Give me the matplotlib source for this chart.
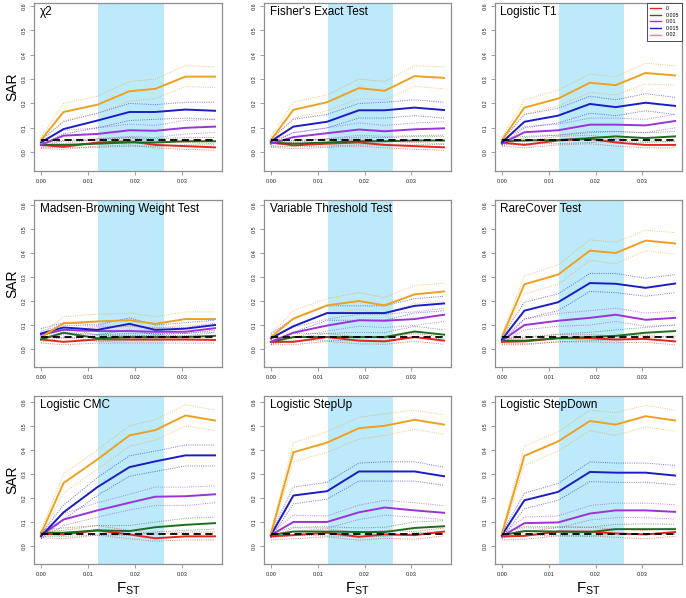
import matplotlib
matplotlib.use('Agg')
import matplotlib.pyplot as plt
from matplotlib.lines import Line2D

plt.rcParams['font.family'] = ['Liberation Sans', 'DejaVu Sans']

# ---------------- data ----------------
FST = [0, 0.0048, 0.012, 0.0188, 0.0243, 0.0307, 0.037]
SERIES = ['0', '0.005', '0.01', '0.015', '0.02']
COLORS = ['#e3261f', '#1f6b1f', '#9b33d6', '#1c1cc4', '#eda11f']
ALPHA_LEVEL = 0.05
BAND = (0.0122, 0.0261)
TITLES = ['χ2', "Fisher's Exact Test", 'Logistic T1',
          'Madsen-Browning Weight Test', 'Variable Threshold Test', 'RareCover Test',
          'Logistic CMC', 'Logistic StepUp', 'Logistic StepDown']

# order of rows in each table: 0, 0.005, 0.01, 0.015, 0.02
chi2_mean = [[0.03, 0.022, 0.04, 0.045, 0.03, 0.025, 0.02],
             [0.03, 0.03, 0.035, 0.04, 0.04, 0.045, 0.045],
             [0.03, 0.068, 0.075, 0.09, 0.088, 0.1, 0.105],
             [0.04, 0.095, 0.13, 0.165, 0.165, 0.175, 0.17],
             [0.05, 0.165, 0.195, 0.25, 0.26, 0.31, 0.31]]
chi2_lo = [[0.015, 0.012, 0.025, 0.03, 0.018, 0.012, 0.008],
           [0.02, 0.02, 0.02, 0.025, 0.025, 0.03, 0.03],
           [0.02, 0.05, 0.055, 0.065, 0.06, 0.075, 0.08],
           [0.03, 0.075, 0.10, 0.13, 0.135, 0.14, 0.135],
           [0.04, 0.13, 0.16, 0.21, 0.22, 0.27, 0.265]]
chi2_hi = [[0.04, 0.035, 0.055, 0.06, 0.045, 0.04, 0.035],
           [0.04, 0.045, 0.05, 0.06, 0.055, 0.06, 0.06],
           [0.04, 0.09, 0.10, 0.115, 0.11, 0.13, 0.135],
           [0.05, 0.125, 0.16, 0.20, 0.195, 0.205, 0.205],
           [0.06, 0.20, 0.23, 0.29, 0.30, 0.355, 0.35]]

fisher_mean = [[0.04, 0.028, 0.035, 0.04, 0.03, 0.025, 0.02],
               [0.04, 0.035, 0.04, 0.045, 0.045, 0.048, 0.048],
               [0.035, 0.062, 0.078, 0.093, 0.086, 0.094, 0.098],
               [0.045, 0.105, 0.125, 0.172, 0.172, 0.183, 0.173],
               [0.05, 0.174, 0.205, 0.263, 0.252, 0.312, 0.305]]
fisher_lo = [[0.02, 0.015, 0.02, 0.025, 0.018, 0.012, 0.008],
             [0.025, 0.022, 0.025, 0.03, 0.03, 0.03, 0.032],
             [0.025, 0.045, 0.055, 0.07, 0.065, 0.068, 0.07],
             [0.035, 0.08, 0.10, 0.14, 0.14, 0.15, 0.14],
             [0.04, 0.14, 0.17, 0.22, 0.215, 0.27, 0.26]]
fisher_hi = [[0.05, 0.04, 0.05, 0.055, 0.045, 0.04, 0.035],
             [0.05, 0.048, 0.055, 0.062, 0.06, 0.065, 0.065],
             [0.045, 0.08, 0.10, 0.12, 0.11, 0.12, 0.125],
             [0.055, 0.135, 0.155, 0.20, 0.205, 0.215, 0.205],
             [0.065, 0.205, 0.235, 0.30, 0.29, 0.355, 0.35]]

t1_mean = [[0.04, 0.03, 0.048, 0.055, 0.04, 0.03, 0.03],
           [0.045, 0.048, 0.05, 0.058, 0.065, 0.058, 0.065],
           [0.035, 0.082, 0.09, 0.113, 0.113, 0.11, 0.128],
           [0.04, 0.125, 0.15, 0.198, 0.185, 0.203, 0.19],
           [0.05, 0.183, 0.22, 0.285, 0.275, 0.325, 0.315]]
t1_lo = [[0.025, 0.018, 0.03, 0.035, 0.025, 0.018, 0.018],
         [0.03, 0.035, 0.035, 0.04, 0.045, 0.04, 0.045],
         [0.025, 0.06, 0.07, 0.085, 0.085, 0.08, 0.10],
         [0.03, 0.10, 0.12, 0.16, 0.15, 0.17, 0.155],
         [0.04, 0.155, 0.19, 0.245, 0.235, 0.28, 0.275]]
t1_hi = [[0.05, 0.045, 0.065, 0.07, 0.055, 0.045, 0.045],
         [0.055, 0.065, 0.07, 0.08, 0.085, 0.08, 0.085],
         [0.045, 0.105, 0.115, 0.14, 0.14, 0.135, 0.155],
         [0.05, 0.155, 0.18, 0.23, 0.215, 0.24, 0.225],
         [0.06, 0.215, 0.255, 0.32, 0.31, 0.365, 0.355]]

madsen_mean = [[0.04, 0.03, 0.04, 0.04, 0.04, 0.04, 0.038],
               [0.04, 0.068, 0.045, 0.05, 0.05, 0.05, 0.055],
               [0.06, 0.08, 0.075, 0.075, 0.072, 0.072, 0.087],
               [0.065, 0.09, 0.08, 0.105, 0.08, 0.085, 0.10],
               [0.05, 0.107, 0.115, 0.12, 0.105, 0.125, 0.125]]
madsen_lo = [[0.025, 0.018, 0.025, 0.025, 0.025, 0.025, 0.025],
             [0.028, 0.05, 0.032, 0.035, 0.035, 0.035, 0.04],
             [0.045, 0.06, 0.058, 0.058, 0.055, 0.055, 0.068],
             [0.045, 0.07, 0.06, 0.08, 0.06, 0.065, 0.078],
             [0.04, 0.085, 0.09, 0.095, 0.085, 0.10, 0.10]]
madsen_hi = [[0.05, 0.045, 0.055, 0.055, 0.055, 0.055, 0.052],
             [0.05, 0.085, 0.06, 0.065, 0.065, 0.065, 0.07],
             [0.075, 0.10, 0.095, 0.095, 0.09, 0.09, 0.108],
             [0.085, 0.11, 0.10, 0.13, 0.10, 0.11, 0.12],
             [0.06, 0.135, 0.145, 0.15, 0.135, 0.155, 0.155]]

vt_mean = [[0.03, 0.03, 0.05, 0.035, 0.032, 0.05, 0.035],
           [0.03, 0.05, 0.05, 0.05, 0.05, 0.073, 0.06],
           [0.03, 0.068, 0.098, 0.12, 0.118, 0.125, 0.143],
           [0.045, 0.095, 0.15, 0.15, 0.15, 0.18, 0.19],
           [0.05, 0.127, 0.182, 0.20, 0.182, 0.228, 0.24]]
vt_lo = [[0.018, 0.018, 0.032, 0.022, 0.02, 0.032, 0.02],
         [0.02, 0.035, 0.035, 0.035, 0.035, 0.05, 0.042],
         [0.02, 0.05, 0.075, 0.095, 0.09, 0.098, 0.115],
         [0.03, 0.07, 0.12, 0.12, 0.12, 0.15, 0.16],
         [0.04, 0.10, 0.15, 0.165, 0.15, 0.19, 0.20]]
vt_hi = [[0.04, 0.045, 0.065, 0.05, 0.047, 0.065, 0.05],
         [0.04, 0.065, 0.065, 0.07, 0.068, 0.095, 0.08],
         [0.045, 0.09, 0.125, 0.145, 0.145, 0.155, 0.17],
         [0.065, 0.125, 0.18, 0.18, 0.18, 0.21, 0.22],
         [0.06, 0.16, 0.21, 0.235, 0.215, 0.265, 0.275]]

rc_mean = [[0.03, 0.032, 0.045, 0.045, 0.04, 0.042, 0.032],
           [0.035, 0.035, 0.045, 0.05, 0.055, 0.068, 0.075],
           [0.035, 0.10, 0.118, 0.13, 0.143, 0.122, 0.13],
           [0.04, 0.16, 0.195, 0.275, 0.272, 0.255, 0.273],
           [0.05, 0.27, 0.31, 0.41, 0.40, 0.452, 0.44]]
rc_lo = [[0.018, 0.018, 0.03, 0.03, 0.026, 0.028, 0.018],
         [0.022, 0.022, 0.03, 0.035, 0.038, 0.048, 0.055],
         [0.025, 0.08, 0.095, 0.10, 0.115, 0.095, 0.10],
         [0.03, 0.125, 0.16, 0.24, 0.235, 0.22, 0.235],
         [0.04, 0.23, 0.27, 0.37, 0.355, 0.41, 0.395]]
rc_hi = [[0.042, 0.045, 0.06, 0.06, 0.055, 0.058, 0.045],
         [0.045, 0.05, 0.062, 0.07, 0.08, 0.09, 0.10],
         [0.045, 0.125, 0.148, 0.16, 0.17, 0.15, 0.158],
         [0.05, 0.195, 0.23, 0.315, 0.315, 0.295, 0.31],
         [0.06, 0.305, 0.35, 0.455, 0.445, 0.495, 0.485]]

cmc_mean = [[0.05, 0.048, 0.065, 0.048, 0.032, 0.04, 0.04],
            [0.055, 0.055, 0.065, 0.062, 0.078, 0.088, 0.095],
            [0.045, 0.11, 0.148, 0.18, 0.205, 0.207, 0.215],
            [0.04, 0.14, 0.245, 0.328, 0.352, 0.377, 0.377],
            [0.05, 0.262, 0.36, 0.46, 0.482, 0.543, 0.522]]
cmc_lo = [[0.035, 0.03, 0.045, 0.03, 0.02, 0.025, 0.025],
          [0.04, 0.04, 0.045, 0.045, 0.058, 0.065, 0.07],
          [0.03, 0.085, 0.12, 0.15, 0.168, 0.168, 0.18],
          [0.03, 0.11, 0.21, 0.29, 0.31, 0.333, 0.333],
          [0.04, 0.22, 0.32, 0.415, 0.44, 0.50, 0.48]]
cmc_hi = [[0.06, 0.065, 0.085, 0.065, 0.05, 0.058, 0.058],
          [0.065, 0.075, 0.085, 0.085, 0.10, 0.115, 0.12],
          [0.055, 0.135, 0.18, 0.215, 0.245, 0.245, 0.25],
          [0.05, 0.17, 0.285, 0.375, 0.395, 0.42, 0.42],
          [0.065, 0.30, 0.40, 0.50, 0.525, 0.588, 0.565]]

up_mean = [[0.04, 0.045, 0.055, 0.038, 0.048, 0.045, 0.06],
           [0.045, 0.06, 0.06, 0.058, 0.058, 0.075, 0.082],
           [0.045, 0.10, 0.10, 0.14, 0.16, 0.148, 0.138],
           [0.045, 0.21, 0.228, 0.31, 0.31, 0.31, 0.29],
           [0.05, 0.39, 0.43, 0.49, 0.50, 0.525, 0.505]]
up_lo = [[0.025, 0.03, 0.038, 0.024, 0.032, 0.028, 0.042],
         [0.035, 0.045, 0.042, 0.04, 0.04, 0.055, 0.06],
         [0.035, 0.075, 0.075, 0.11, 0.128, 0.12, 0.11],
         [0.035, 0.175, 0.195, 0.27, 0.27, 0.27, 0.252],
         [0.04, 0.35, 0.39, 0.445, 0.46, 0.485, 0.465]]
up_hi = [[0.05, 0.06, 0.072, 0.055, 0.065, 0.06, 0.075],
         [0.055, 0.078, 0.08, 0.075, 0.078, 0.10, 0.105],
         [0.055, 0.128, 0.125, 0.17, 0.19, 0.18, 0.168],
         [0.055, 0.245, 0.265, 0.345, 0.35, 0.35, 0.328],
         [0.06, 0.43, 0.475, 0.535, 0.55, 0.565, 0.545]]

down_mean = [[0.04, 0.042, 0.06, 0.06, 0.052, 0.048, 0.058],
             [0.045, 0.062, 0.06, 0.058, 0.07, 0.07, 0.07],
             [0.04, 0.095, 0.098, 0.135, 0.148, 0.148, 0.142],
             [0.045, 0.19, 0.225, 0.308, 0.305, 0.305, 0.293],
             [0.05, 0.375, 0.435, 0.52, 0.505, 0.54, 0.522]]
down_lo = [[0.025, 0.028, 0.042, 0.042, 0.036, 0.03, 0.04],
           [0.035, 0.045, 0.042, 0.04, 0.052, 0.05, 0.05],
           [0.03, 0.075, 0.075, 0.108, 0.118, 0.118, 0.112],
           [0.035, 0.155, 0.19, 0.268, 0.265, 0.265, 0.255],
           [0.04, 0.335, 0.395, 0.48, 0.46, 0.495, 0.478]]
down_hi = [[0.05, 0.058, 0.078, 0.078, 0.07, 0.065, 0.075],
           [0.055, 0.08, 0.08, 0.078, 0.09, 0.092, 0.09],
           [0.05, 0.12, 0.125, 0.168, 0.178, 0.178, 0.172],
           [0.055, 0.22, 0.26, 0.35, 0.345, 0.345, 0.335],
           [0.06, 0.415, 0.475, 0.565, 0.555, 0.585, 0.565]]

PANELS = [(chi2_mean, chi2_lo, chi2_hi), (fisher_mean, fisher_lo, fisher_hi),
          (t1_mean, t1_lo, t1_hi), (madsen_mean, madsen_lo, madsen_hi),
          (vt_mean, vt_lo, vt_hi), (rc_mean, rc_lo, rc_hi),
          (cmc_mean, cmc_lo, cmc_hi), (up_mean, up_lo, up_hi),
          (down_mean, down_lo, down_hi)]

XTICKS = [0.00, 0.01, 0.02, 0.03]
XTICKLABELS = ['0.00', '0.01', '0.02', '0.03']
YTICKS = [0.0, 0.1, 0.2, 0.3, 0.4, 0.5, 0.6]
YTICKLABELS = ['0.0', '0.1', '0.2', '0.3', '0.4', '0.5', '0.6']

# ---------------- layout ----------------
W, H = 686, 598
fig = plt.figure(figsize=(W / 100, H / 100), dpi=100)
cols = [(34, 222), (264, 451), (495, 682)]
rows = [(3, 171), (200, 367.3), (396, 564)]
YLIMS = [(-0.077, 0.612), (-0.076, 0.621), (-0.075, 0.624)]
BAND_COLOR = '#bdeafa'
FRAME = '#8f8f8f'

for i, (title, (mean, lo, hi)) in enumerate(zip(TITLES, PANELS)):
    r, c = divmod(i, 3)
    x0, x1 = cols[c]
    y0, y1 = rows[r]
    ax = fig.add_axes([x0 / W, 1 - y1 / H, (x1 - x0) / W, (y1 - y0) / H])
    ax.axvspan(BAND[0], BAND[1], color=BAND_COLOR, lw=0, zorder=0)
    for k in range(len(SERIES)):
        ax.plot(FST, lo[k], ls=(0, (1, 1.3)), color=COLORS[k], lw=0.7, alpha=0.6, zorder=2)
        ax.plot(FST, hi[k], ls=(0, (1, 1.3)), color=COLORS[k], lw=0.7, alpha=0.6, zorder=2)
    for k in range(len(SERIES)):
        ax.plot(FST, mean[k], color=COLORS[k], lw=1.4, zorder=3)
    ax.plot([FST[0], FST[-1]], [ALPHA_LEVEL, ALPHA_LEVEL], color='black',
            ls=(0, (4, 2.5)), lw=1.3, zorder=4)
    ax.set_xlim(-0.00148, 0.03848)
    ax.set_ylim(*YLIMS[r])
    ax.set_xticks(XTICKS)
    ax.set_xticklabels(XTICKLABELS)
    ax.set_yticks(YTICKS)
    ax.set_yticklabels(YTICKLABELS, rotation=90, va='center')
    ax.tick_params(axis='both', direction='out', length=3, width=0.6, color=FRAME,
                   labelsize=4, pad=2.5, labelcolor='#222222')
    for s in ax.spines.values():
        s.set_color(FRAME)
        s.set_linewidth(0.9)
    hpx = y1 - y0
    wpx = x1 - x0
    ax.text(5.5 / wpx, 1 - 12.3 / hpx, title, transform=ax.transAxes, ha='left',
            va='baseline', fontsize=8.5, color='black', zorder=5)
    if c == 0:
        fig.text(12 / W, 1 - ((y0 + y1) / 2) / H, 'SAR', rotation=90,
                 ha='center', va='center', fontsize=10)
    if r == 2:
        ax.set_xlabel('$\\mathregular{F_{ST}}$', fontsize=11, labelpad=3)
    if i == 2:
        handles = [Line2D([0], [0], color=COLORS[k], lw=1.0) for k in range(len(SERIES))]
        leg = ax.legend(handles, SERIES, loc='upper right', fontsize=3.8,
                        handlelength=2.0, labelspacing=0.3, borderpad=0.6,
                        handletextpad=0.9, borderaxespad=0.0, fancybox=False,
                        framealpha=1)
        leg.get_frame().set_edgecolor('#333333')
        leg.get_frame().set_linewidth(0.6)

fig.savefig('out.png', dpi=100)
